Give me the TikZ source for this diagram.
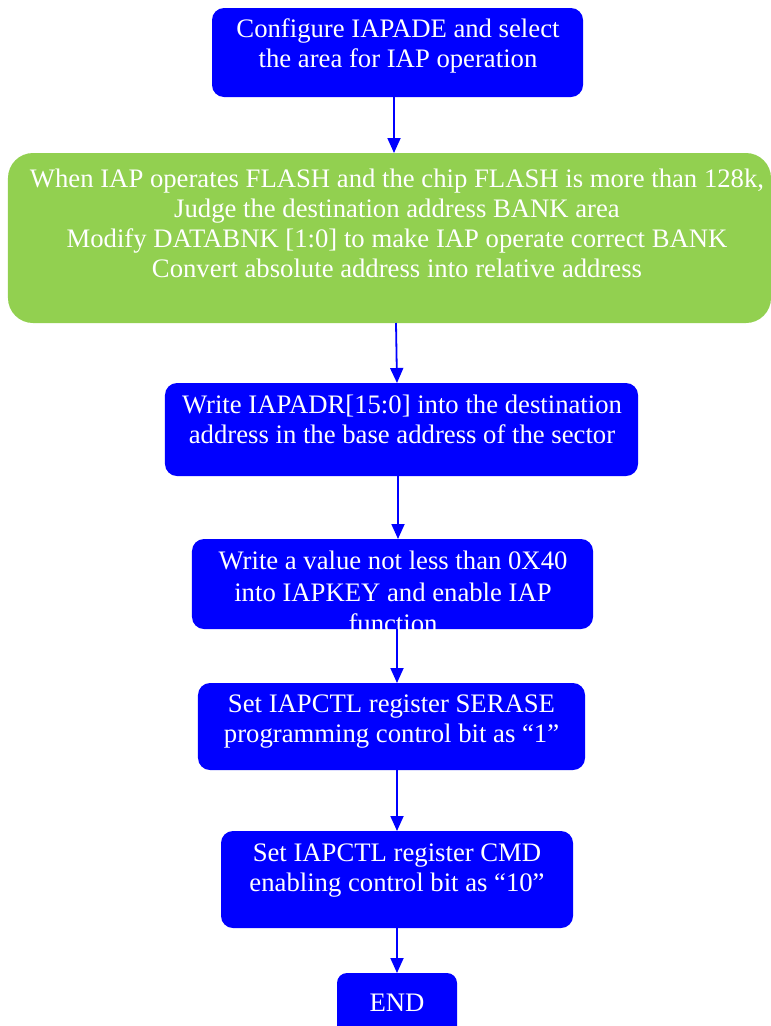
\documentclass[tikz,border=0pt]{standalone}
\usepackage{fontspec}
\setmainfont{Liberation Serif}
\usetikzlibrary{arrows.meta,calc}
\definecolor{iapblue}{HTML}{0000FF}
\definecolor{iapgreen}{HTML}{92D050}
\tikzset{
  flowbox/.style={fill=iapblue, draw=none, rounded corners=12bp, inner sep=0pt, outer sep=0pt},
  greenbox/.style={fill=iapgreen, draw=none, rounded corners=25bp, inner sep=0pt, outer sep=0pt},
  boxtext/.style={text=white, align=center, inner sep=0pt, anchor=north, font=\fontsize{26.7bp}{30bp}\selectfont},
  flowarrow/.style={draw=iapblue, line width=1.8bp, -{Triangle[width=13bp,length=15bp]}}
}
\begin{document}
\begin{tikzpicture}[x=1bp,y=-1bp]
\useasboundingbox (0,0) rectangle (771,1026);
% boxes
\node[flowbox, minimum width=371bp, minimum height=89bp] (b1) at (397.5,52.5) {};
\node[greenbox, minimum width=763bp, minimum height=170bp] (g) at (389.5,238) {};
\node[flowbox, minimum width=473bp, minimum height=93bp] (b3) at (401.5,429.5) {};
\node[flowbox, minimum width=401bp, minimum height=90bp] (b4) at (392.5,584) {};
\node[flowbox, minimum width=387bp, minimum height=87bp] (b5) at (391.5,726.5) {};
\node[flowbox, minimum width=352bp, minimum height=97bp] (b6) at (397,879.5) {};
\node[flowbox, rounded corners=10bp, minimum width=120bp, minimum height=67bp] (e) at (397,1006.5) {};
% texts
\node[boxtext] (t1) at (398,16) {\strut Configure IAPADE and select\\the area for IAP operation};
\node[boxtext] (tg) at (397,166) {\strut When IAP operates FLASH and the chip FLASH is more than 128k,\\Judge the destination address BANK area\\Modify DATABNK [1:0] to make IAP operate correct BANK\\Convert absolute address into relative address};
\node[boxtext] (t3) at (402,392) {\strut Write IAPADR[15:0] into the destination\\address in the base address of the sector};
\begin{scope}
\clip[rounded corners=12bp] (b4.north west) rectangle (b4.south east);
\node[boxtext, font=\fontsize{26.7bp}{31.5bp}\selectfont] (t4) at (393,547.5) {\strut Write a value not less than 0X40\\into IAPKEY and enable IAP\\function};
\end{scope}
\node[boxtext] (t5) at (391.5,691) {\strut Set IAPCTL register SERASE\\programming control bit as “1”};
\node[boxtext] (t6) at (397,840) {\strut Set IAPCTL register CMD\\enabling control bit as “10”};
\node[boxtext] (te) at (397,990) {\strut END};
% connectors
\draw[flowarrow] ([xshift=-3.5bp]b1.south) -- ([xshift=-3.5bp]b1.south |- g.north);
\draw[flowarrow] ([xshift=6.5bp]g.south) -- ([xshift=-4.5bp]b3.north);
\draw[flowarrow] ([xshift=-3.5bp]b3.south) -- ([xshift=-3.5bp]b3.south |- b4.north);
\draw[flowarrow] ([xshift=4.5bp]b4.south) -- ([xshift=4.5bp]b4.south |- b5.north);
\draw[flowarrow] ([xshift=5.5bp]b5.south) -- ([xshift=5.5bp]b5.south |- b6.north);
\draw[flowarrow] (b6.south) -- (e.north);
\end{tikzpicture}
\end{document}
